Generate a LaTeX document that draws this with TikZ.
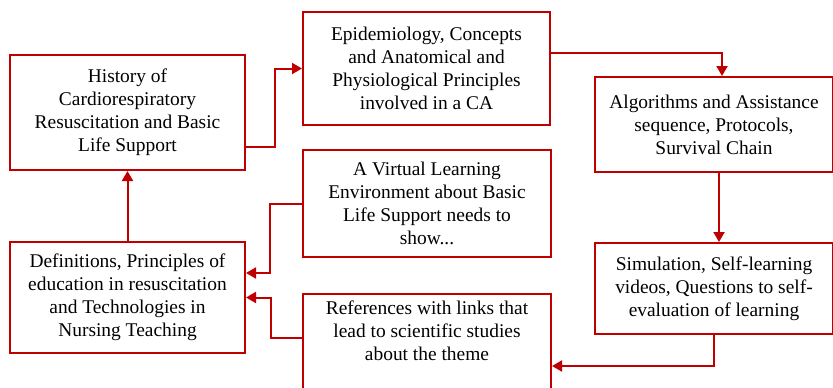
\documentclass[tikz,border=0pt]{standalone}
\usepackage{fontspec}
\setmainfont{Liberation Serif}
\usepackage{xcolor}
\usepackage{tikz}
\usetikzlibrary{arrows.meta, positioning, calc}

\definecolor{boxred}{RGB}{192,0,0}

\tikzset{
	stage/.style={draw=boxred, line width=2bp, fill=white, align=center, inner sep=0pt,
		font=\fontsize{19.5}{23}\selectfont},
	link/.style={draw=boxred, line width=2bp, -{Triangle[length=10bp,width=11bp]}}
}

\begin{document}
\begin{tikzpicture}[x=1bp, y=-1bp]
					\useasboundingbox (0,0) rectangle (833,387);
					
					\node [stage, minimum width=235bp, minimum height=115bp] (hist) at (127.5,112.5) {History of\\Cardiorespiratory\\Resuscitation and Basic\\Life Support};
					\node [stage, minimum width=247bp, minimum height=113bp] (epi) at (426.5,68.5) {Epidemiology, Concepts\\and Anatomical and\\Physiological Principles\\involved in a CA};
					\node [stage, minimum width=238bp, minimum height=95bp] (algo) at (714,124.5) {Algorithms and Assistance\\sequence, Protocols,\\Survival Chain};
					\node [stage, minimum width=238bp, minimum height=91bp] (sim) at (714,288.5) {Simulation, Self-learning\\videos, Questions to self-\\evaluation of learning};
					\node [stage, minimum width=248bp, minimum height=107bp] (virt) at (427,203.5) {A Virtual Learning\\Environment about Basic\\Life Support needs to\\show...};
					\node [stage, minimum width=248bp, minimum height=98bp] (ref) at (427,343) {References with links that\\lead to scientific studies\\about the theme\\[2bp]};
					\node [stage, minimum width=235bp, minimum height=111bp] (defn) at (127.5,297.5) {Definitions, Principles of\\education in resuscitation\\and Technologies in\\Nursing Teaching};
					
					\draw [link] ([yshift=-34bp]hist.east) -- ++(29,0) |- (epi.west);
					\draw [link] ([yshift=15.5bp]epi.east) -| ([xshift=8bp]algo.north);
					\draw [link] ([xshift=5bp]algo.south) -- ([xshift=5bp]sim.north);
					\draw [link] (sim.south) |- ([yshift=-23bp]ref.east);
					\draw [link] (virt.west) -- ++(-32,0) |- ([yshift=24.5bp]defn.east);
					\draw [link] ([yshift=5bp]ref.west) -- ++(-31,0) |- (defn.east);
					\draw [link] (defn.north) -- (hist.south);
\end{tikzpicture}
\end{document}
